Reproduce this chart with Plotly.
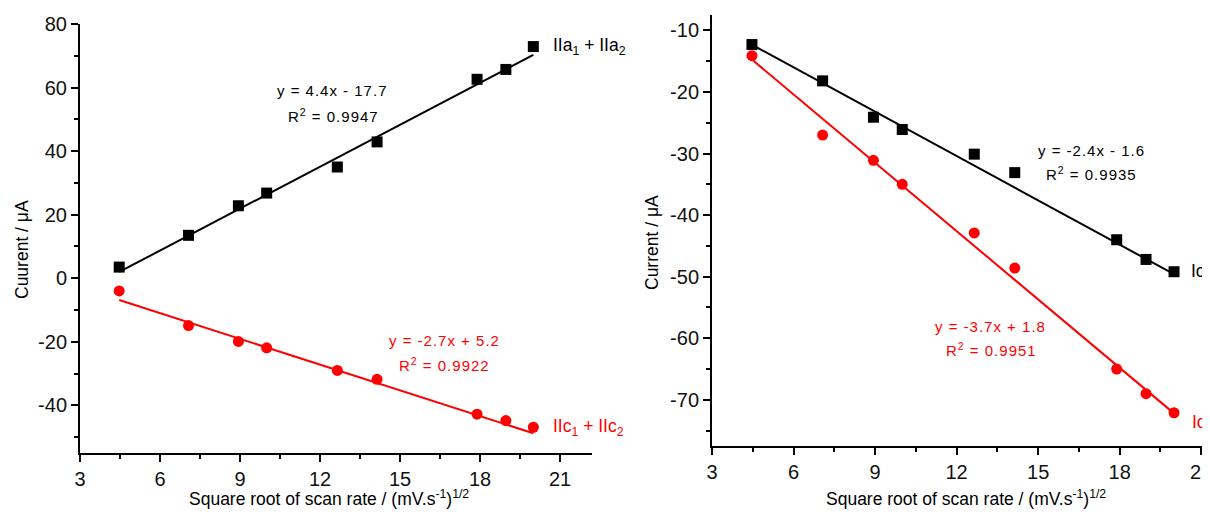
import plotly.graph_objects as go

# ---- data ----
sqrt_scan = [4.47, 7.07, 8.94, 10.0, 12.65, 14.14, 17.89, 18.97, 20.0]

left_ox = [3.5, 13.5, 22.8, 26.8, 35.0, 42.9, 62.6, 65.7, 72.9]        # IIa1 + IIa2
left_red = [-4.0, -14.9, -19.9, -21.9, -29.0, -31.8, -42.8, -44.8, -46.9]  # IIc1 + IIc2
right_ic1 = [-12.3, -18.2, -24.1, -26.1, -30.1, -33.1, -44.0, -47.2, -49.2]
right_ic2 = [-14.1, -27.0, -31.1, -35.0, -42.9, -48.6, -65.0, -69.0, -72.1]

fit_left_ox = [4.4, -17.7]
fit_left_red = [-2.7, 5.2]
fit_right_ic1 = [-2.4, -1.6]
fit_right_ic2 = [-3.7, 1.8]

x_ticks = [3, 6, 9, 12, 15, 18, 21]
left_y_ticks = [-40, -20, 0, 20, 40, 60, 80]
left_y_text = ["-40", "-20", "0", "20", "40", "60", "80"]
right_y_ticks = [-70, -60, -50, -40, -30, -20, -10]
right_y_text = ["-70", "-60", "-50", "-40", "-30", "-20", "-10"]

FONT = "Liberation Sans, Arial, sans-serif"
BLACK = "#000000"
RED = "#ff0000"

fig = go.Figure()

def fit_line(coef, xs):
    xe = [xs[0], xs[-1]]
    return xe, [coef[0] * v + coef[1] for v in xe]

def add_series(xs, ys, coef, color, symbol, xa, ya):
    fx, fy = fit_line(coef, xs)
    fig.add_trace(go.Scatter(x=fx, y=fy, mode="lines", line=dict(color=color, width=2),
                             xaxis=xa, yaxis=ya, showlegend=False, hoverinfo="skip"))
    fig.add_trace(go.Scatter(x=xs, y=ys, mode="markers",
                             marker=dict(symbol=symbol, size=11, color=color, line=dict(width=0)),
                             xaxis=xa, yaxis=ya, showlegend=False))

add_series(sqrt_scan, left_ox, fit_left_ox, BLACK, "square", "x", "y")
add_series(sqrt_scan, left_red, fit_left_red, RED, "circle", "x", "y")
add_series(sqrt_scan, right_ic1, fit_right_ic1, BLACK, "square", "x2", "y2")
add_series(sqrt_scan, right_ic2, fit_right_ic2, RED, "circle", "x2", "y2")

# page body has an 8px margin: the figure starts at (8, 8) of the window
OFF = 8
W, H = 1210 - OFF, 520 - OFF

def px(x):
    return (x - OFF) / W

def py(y):
    return 1 - (y - OFF) / H

minor_common = dict(ticks="outside", ticklen=4, tickwidth=2, tickcolor=BLACK)
axis_common = dict(
    showline=True, linecolor=BLACK, linewidth=2, ticks="outside", ticklen=7, tickwidth=2,
    tickcolor=BLACK, showgrid=False, zeroline=False, mirror=False, automargin=False,
    ticklabeloverflow="allow",
    tickfont=dict(family=FONT, size=20, color="#111111"),
)

L_X0, L_X1, L_Y0, L_Y1 = 80, 592, 453, 24
R_X0, R_X1, R_Y0, R_Y1 = 712, 1208, 446, 15

fig.update_layout(
    width=W, height=H, margin=dict(l=0, r=0, t=0, b=0),
    paper_bgcolor="white", plot_bgcolor="white",
    font=dict(family=FONT, color=BLACK),
    xaxis=dict(axis_common, domain=[px(L_X0), px(L_X1)], range=[3, 22.2], tickvals=x_ticks,
               minor=dict(minor_common, dtick=1.5, tick0=3), anchor="y"),
    yaxis=dict(axis_common, domain=[py(L_Y0), py(L_Y1)], range=[-55, 80],
               tickvals=left_y_ticks, ticktext=left_y_text,
               minor=dict(minor_common, dtick=10, tick0=0), anchor="x"),
    xaxis2=dict(axis_common, domain=[px(R_X0), px(R_X1)], range=[3, 21.25], tickvals=x_ticks,
                minor=dict(minor_common, dtick=1.5, tick0=3), anchor="y2"),
    yaxis2=dict(axis_common, domain=[py(R_Y0), py(R_Y1)], range=[-77.5, -7.5],
                tickvals=right_y_ticks, ticktext=right_y_text,
                minor=dict(minor_common, dtick=5, tick0=0), anchor="x2"),
)

title_font = dict(family=FONT, size=17.5, color=BLACK)
xtitle = "Square root of scan rate / (mV.s<sup>-1</sup>)<sup>1/2</sup>"

def paper_ann(text, xpix, ypix, font, xanchor="center", angle=0):
    fig.add_annotation(text=text, x=px(xpix), y=py(ypix), xref="paper", yref="paper",
                       showarrow=False, font=font, xanchor=xanchor, yanchor="middle",
                       textangle=angle)

# axis titles
paper_ann(xtitle, 329, 498, title_font)
paper_ann(xtitle, 966, 498, title_font)
paper_ann("Cuurent / μA", 22, 250, title_font, angle=-90)
paper_ann("Current / μA", 652, 243, title_font, angle=-90)

ann_font = dict(family=FONT, size=15)
lab_font = dict(family=FONT, size=17.5)

def spaced(t):
    return '<span style="letter-spacing:1px">' + t + "</span>"

def ann(text, x, y, xref, yref, color, font, xanchor="center"):
    fig.add_annotation(text=text, x=x, y=y, xref=xref, yref=yref, showarrow=False,
                       font=dict(font, color=color), xanchor=xanchor, yanchor="middle")

# left panel annotations
ann(spaced("y = 4.4x - 17.7"), 12.45, 59.1, "x", "y", BLACK, ann_font)
ann(spaced("R<sup>2</sup> = 0.9947"), 12.5, 51.3, "x", "y", BLACK, ann_font)
ann("IIa<sub>1</sub> + IIa<sub>2</sub>", 20.65, 73.0, "x", "y", BLACK, lab_font, "left")
ann(spaced("y = -2.7x + 5.2"), 16.65, -19.7, "x", "y", RED, ann_font)
ann(spaced("R<sup>2</sup> = 0.9922"), 16.65, -27.2, "x", "y", RED, ann_font)
ann("IIc<sub>1</sub> + IIc<sub>2</sub>", 20.65, -47.0, "x", "y", RED, lab_font, "left")

# right panel annotations
ann(spaced("y = -2.4x - 1.6"), 16.95, -29.45, "x2", "y2", BLACK, ann_font)
ann(spaced("R<sup>2</sup> = 0.9935"), 16.97, -33.3, "x2", "y2", BLACK, ann_font)
ann(spaced("y = -3.7x + 1.8"), 13.26, -58.1, "x2", "y2", RED, ann_font)
ann(spaced("R<sup>2</sup> = 0.9951"), 13.28, -61.9, "x2", "y2", RED, ann_font)
paper_ann("Ic<sub>1</sub>", 1189, 272, dict(lab_font, color=BLACK), "left")
paper_ann("Ic<sub>2</sub>", 1190, 423, dict(lab_font, color=RED), "left")

fig.write_html("out.html")
